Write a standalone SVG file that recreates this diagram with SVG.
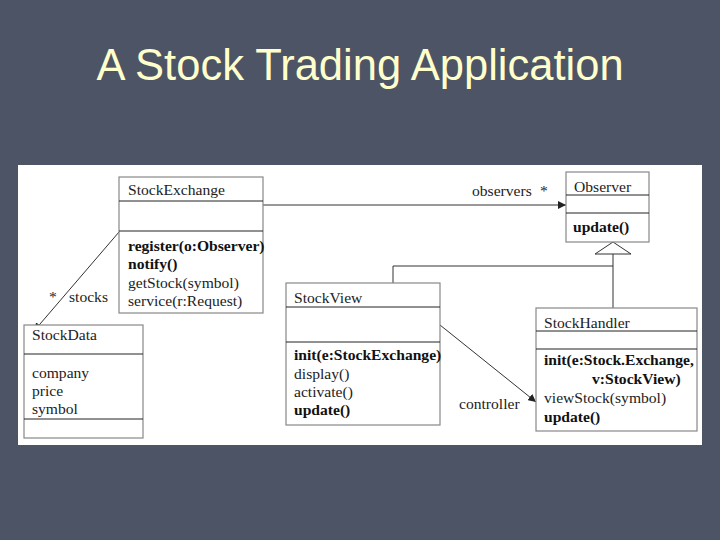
<svg xmlns="http://www.w3.org/2000/svg" width="720" height="540" viewBox="0 0 720 540">
<defs>
<style>
.box{fill:#fff;stroke:#888;stroke-width:1.2}
.sep{stroke:#222;stroke-width:1}
text{font-family:"Liberation Serif",serif;font-size:15.6px;fill:#222}
.b{font-weight:bold;fill:#111}
.ln{stroke:#333;stroke-width:1;fill:none}
</style>
<marker id="ah" viewBox="0 0 10 10" refX="10" refY="5" markerWidth="8" markerHeight="8" orient="auto" markerUnits="userSpaceOnUse"><path d="M0,0 L10,5 L0,10 z" fill="#222"/></marker>
</defs>
<rect width="720" height="540" fill="#4d5466"/>
<text x="360" y="80" text-anchor="middle" style="font-family:'Liberation Sans',sans-serif;font-size:43.5px;fill:#ffffcc">A Stock Trading Application</text>
<rect x="18" y="165" width="684" height="280" fill="#fff"/>
<g id="connectors">
<line class="ln" x1="263" y1="205" x2="566" y2="205" marker-end="url(#ah)"/>
<line class="ln" x1="119" y1="232" x2="34" y2="331" marker-end="url(#ah)"/>
<line class="ln" x1="440" y1="325" x2="536" y2="402" marker-end="url(#ah)"/>
<polyline class="ln" points="393,283 393,266 613,266"/>
<line class="ln" x1="613" y1="254" x2="613" y2="308"/>
<path d="M613,242 L595,254 L631,254 z" fill="#fff" stroke="#333"/>
<text x="472" y="196">observers</text><text x="540" y="196">*</text>
<text x="49" y="302">*</text><text x="69" y="302">stocks</text>
<text x="459" y="409">controller</text>
</g>
<g id="StockExchange">
<rect class="box" x="119" y="177" width="144" height="136"/>
<line class="sep" x1="119" y1="201" x2="263" y2="201"/><line class="sep" x1="119" y1="231" x2="263" y2="231"/>
<text x="128" y="195">StockExchange</text>
<text class="b" x="128" y="251">register(o:Observer)</text>
<text class="b" x="128" y="269">notify()</text>
<text x="128" y="288">getStock(symbol)</text>
<text x="128" y="306">service(r:Request)</text>
</g>
<g id="StockData">
<rect class="box" x="24" y="325" width="119" height="113"/>
<line class="sep" x1="24" y1="354" x2="143" y2="354"/><line class="sep" x1="24" y1="419" x2="143" y2="419"/>
<text x="32" y="340">StockData</text>
<text x="32" y="378">company</text><text x="32" y="396">price</text><text x="32" y="414">symbol</text>
</g>
<g id="Observer">
<rect class="box" x="566" y="172" width="83" height="70"/>
<line class="sep" x1="566" y1="195" x2="649" y2="195"/><line class="sep" x1="566" y1="213" x2="649" y2="213"/>
<text x="574" y="192">Observer</text>
<text class="b" x="573" y="232">update()</text>
</g>
<g id="StockView">
<rect class="box" x="286" y="283" width="154" height="142"/>
<line class="sep" x1="286" y1="307" x2="440" y2="307"/><line class="sep" x1="286" y1="342" x2="440" y2="342"/>
<text x="294" y="303">StockView</text>
<text class="b" x="294" y="360">init(e:StockExchange)</text>
<text x="294" y="379">display()</text><text x="294" y="397">activate()</text>
<text class="b" x="294" y="415">update()</text>
</g>
<g id="StockHandler">
<rect class="box" x="536" y="308" width="161" height="123"/>
<line class="sep" x1="536" y1="331" x2="697" y2="331"/><line class="sep" x1="536" y1="349" x2="697" y2="349"/>
<text x="544" y="328">StockHandler</text>
<text class="b" x="544" y="365">init(e:Stock.Exchange,</text>
<text class="b" x="592" y="384">v:StockView)</text>
<text x="544" y="403">viewStock(symbol)</text>
<text class="b" x="544" y="422">update()</text>
</g>
</svg>
